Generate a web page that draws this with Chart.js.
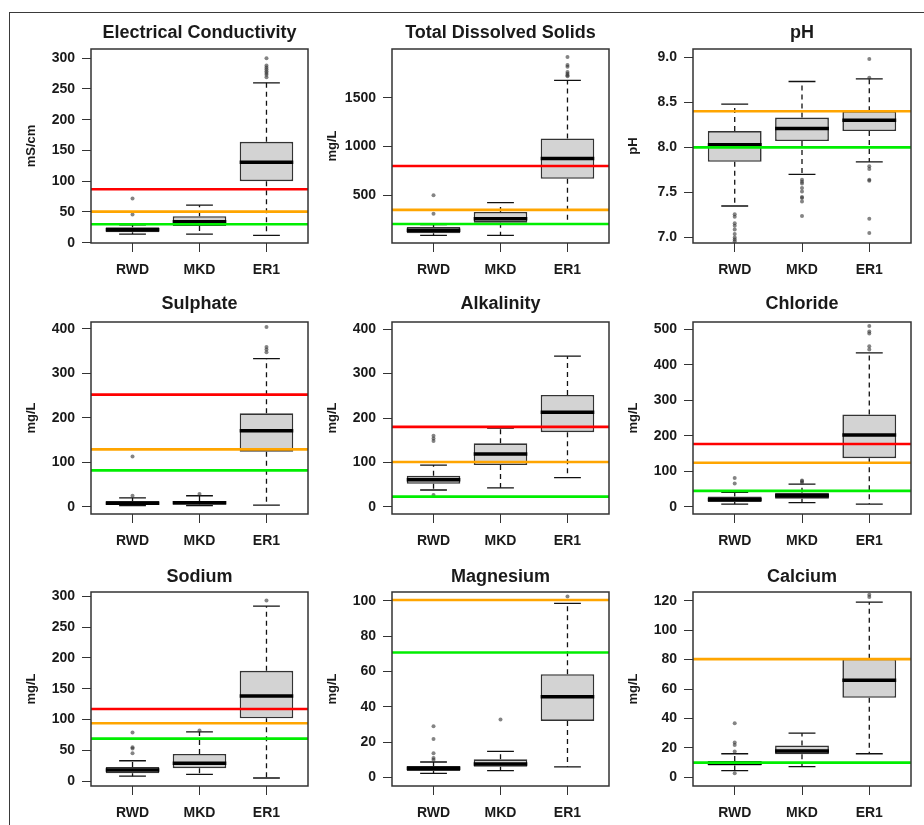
<!DOCTYPE html>
<html>
<head>
<meta charset="utf-8">
<title>Water quality by site</title>
<script src="https://cdn.jsdelivr.net/npm/chart.js@4.4.1/dist/chart.umd.min.js"></script>
<style>
  html, body { margin: 0; padding: 0; background: #fff; }
  #fig { position: relative; width: 924px; height: 825px; overflow: hidden; background: #fff; }
  #fig canvas { position: absolute; }
  .rule-top { position: absolute; left: 9px; top: 12px; width: 915px; height: 1px; background: #3a3a3a; }
  .rule-left { position: absolute; left: 9px; top: 12px; width: 1px; height: 813px; background: #3a3a3a; }
</style>
</head>
<body>
<div id="fig">
  <div class="rule-top"></div>
  <div class="rule-left"></div>
</div>
<script>
// Sampling sites on the x axis
const sites = ['RWD', 'MKD', 'ER1'];

// Per site: [lower whisker, Q1, median, Q3, upper whisker]
// Guideline limits: [red, orange, green] (null where a parameter has none)

const ecStats = [[14, 17, 21, 25, 29], [14, 27, 34, 43, 61], [12, 100, 131, 164, 260]];
const ecOutliers = [[46, 72], [], [269, 273, 276, 279, 282, 285, 288, 300]];
const ecLimits = [87, 50.5, 30];
const ecTicks = [0, 50, 100, 150, 200, 250, 300];

const tdsStats = [[89, 110, 140, 175, 200], [89, 219, 260, 329, 425], [205, 668, 877, 1082, 1678]];
const tdsOutliers = [[310, 500], [], [1720, 1730, 1745, 1765, 1818, 1836, 1918]];
const tdsLimits = [800, 350, 205];
const tdsTicks = [500, 1000, 1500];

const phStats = [[7.35, 7.84, 8.03, 8.18, 8.48], [7.70, 8.07, 8.21, 8.33, 8.73], [7.84, 8.18, 8.30, 8.40, 8.76]];
const phOutliers = [
  [6.96, 6.98, 7.0, 7.04, 7.09, 7.13, 7.16, 7.23, 7.26],
  [7.24, 7.40, 7.44, 7.45, 7.51, 7.55, 7.60, 7.62, 7.64],
  [7.05, 7.21, 7.63, 7.64, 7.76, 7.79, 8.77, 8.98]
];
const phLimits = [null, 8.4, 8.0];
const phTicks = [7.0, 7.5, 8.0, 8.5, 9.0];

const so4Stats = [[3, 5, 8, 13, 20], [3, 5, 9, 13, 25], [4, 124, 171, 210, 333]];
const so4Outliers = [[25, 113], [29], [347, 353, 359, 404]];
const so4Limits = [252, 129, 82];
const so4Ticks = [0, 100, 200, 300, 400];

const alkStats = [[38, 52, 61, 70, 94], [43, 94, 119, 143, 177], [66, 168, 213, 252, 339]];
const alkOutliers = [[27, 148, 154, 160], [], []];
const alkLimits = [180, 101, 23];
const alkTicks = [0, 100, 200, 300, 400];

const clStats = [[8, 14, 21, 29, 41], [12, 23, 31, 40, 64], [8, 137, 202, 260, 433]];
const clOutliers = [[66, 81], [68, 72, 74], [443, 452, 488, 493, 509]];
const clLimits = [177, 124, 45];
const clTicks = [0, 100, 200, 300, 400, 500];

const naStats = [[8, 12.5, 18, 23, 33], [11, 21, 29, 44, 80], [5, 102, 138, 179, 284]];
const naOutliers = [[45, 53, 55, 79], [82], [293]];
const naLimits = [117, 94, 69];
const naTicks = [0, 50, 100, 150, 200, 250, 300];

const mgStats = [[2.3, 3.6, 5.1, 6.4, 8.7], [3.8, 6, 7.6, 10.2, 14.7], [6, 32, 45.7, 58.5, 98.7]];
const mgOutliers = [[10, 11, 13.6, 21.7, 29], [32.8], [102.5]];
const mgLimits = [null, 100.6, 70.8];
const mgTicks = [0, 20, 40, 60, 80, 100];

const caStats = [[4.5, 8, 9.5, 11, 16], [7.3, 15.7, 17.8, 21.6, 30], [16, 54, 66, 80.5, 119]];
const caOutliers = [[2.7, 17.5, 22, 23.6, 36.8], [], [122.5, 124]];
const caLimits = [null, 80.3, 10];
const caTicks = [0, 20, 40, 60, 80, 100, 120];

const panels = [
  { title: 'Electrical Conductivity', unit: 'mS/cm', stats: ecStats, outliers: ecOutliers, limits: ecLimits, ticks: ecTicks, min: -0.5, max: 315, digits: 0 },
  { title: 'Total Dissolved Solids', unit: 'mg/L', stats: tdsStats, outliers: tdsOutliers, limits: tdsLimits, ticks: tdsTicks, min: 10, max: 2000, digits: 0 },
  { title: 'pH', unit: 'pH', stats: phStats, outliers: phOutliers, limits: phLimits, ticks: phTicks, min: 6.94, max: 9.09, digits: 1 },
  { title: 'Sulphate', unit: 'mg/L', stats: so4Stats, outliers: so4Outliers, limits: so4Limits, ticks: so4Ticks, min: -16, max: 415, digits: 0 },
  { title: 'Alkalinity', unit: 'mg/L', stats: alkStats, outliers: alkOutliers, limits: alkLimits, ticks: alkTicks, min: -16, max: 416, digits: 0 },
  { title: 'Chloride', unit: 'mg/L', stats: clStats, outliers: clOutliers, limits: clLimits, ticks: clTicks, min: -20, max: 520, digits: 0 },
  { title: 'Sodium', unit: 'mg/L', stats: naStats, outliers: naOutliers, limits: naLimits, ticks: naTicks, min: -8, max: 307, digits: 0 },
  { title: 'Magnesium', unit: 'mg/L', stats: mgStats, outliers: mgOutliers, limits: mgLimits, ticks: mgTicks, min: -4.9, max: 105.1, digits: 0 },
  { title: 'Calcium', unit: 'mg/L', stats: caStats, outliers: caOutliers, limits: caLimits, ticks: caTicks, min: -5.9, max: 125.9, digits: 0 }
];

// Grid geometry (page pixels)
const colLeft = [10, 311, 612];
const colWidth = [302, 302, 303];
const axisWidth = 81;
const rowTop = [14, 288, 560];
const rowPlotTop = [49, 322, 592];
const rowPlotBottom = [243, 514, 786];
const rowBottom = [286, 556, 825];
const rowTitleY = [33.5, 304.5, 577.5];

const limitColors = ['#ff0000', '#ffa500', '#00ee00'];
const textColor = '#1a1a1a';
const fontFamily = "'Liberation Sans', Arial, sans-serif";

Chart.defaults.font.family = fontFamily;
Chart.defaults.color = textColor;

const fig = document.getElementById('fig');

function buildPanel(p, idx) {
  const col = idx % 3, row = Math.floor(idx / 3);
  const w = colWidth[col];
  const h = rowBottom[row] - rowTop[row];
  const cv = document.createElement('canvas');
  cv.width = w; cv.height = h;
  cv.style.width = w + 'px'; cv.style.height = h + 'px';
  cv.style.left = colLeft[col] + 'px';
  cv.style.top = rowTop[row] + 'px';
  fig.appendChild(cv);

  const boxParts = {
    id: 'boxParts' + idx,
    beforeDatasetsDraw(chart) {
      const { ctx, scales: { x, y } } = chart;
      ctx.save();
      ctx.strokeStyle = '#111';
      ctx.lineWidth = 1.3;
      p.stats.forEach((s, i) => {
        const xc = x.getPixelForValue(i + 1);
        ctx.setLineDash([5, 4]);
        ctx.beginPath();
        ctx.moveTo(xc, y.getPixelForValue(s[3]));
        ctx.lineTo(xc, y.getPixelForValue(s[4]));
        ctx.moveTo(xc, y.getPixelForValue(s[1]));
        ctx.lineTo(xc, y.getPixelForValue(s[0]));
        ctx.stroke();
        ctx.setLineDash([]);
        const xl = x.getPixelForValue(i + 1 - 0.2), xr = x.getPixelForValue(i + 1 + 0.2);
        ctx.beginPath();
        ctx.moveTo(xl, y.getPixelForValue(s[4]));
        ctx.lineTo(xr, y.getPixelForValue(s[4]));
        ctx.moveTo(xl, y.getPixelForValue(s[0]));
        ctx.lineTo(xr, y.getPixelForValue(s[0]));
        ctx.stroke();
      });
      ctx.restore();
    },
    afterDatasetsDraw(chart) {
      const { ctx, chartArea: a, scales: { x, y } } = chart;
      ctx.save();
      // medians
      ctx.strokeStyle = '#000';
      ctx.lineWidth = 3.5;
      ctx.lineCap = 'butt';
      p.stats.forEach((s, i) => {
        const ym = y.getPixelForValue(s[2]);
        ctx.beginPath();
        ctx.moveTo(x.getPixelForValue(i + 1 - 0.4), ym);
        ctx.lineTo(x.getPixelForValue(i + 1 + 0.4), ym);
        ctx.stroke();
      });
      // guideline limits
      ctx.beginPath();
      ctx.rect(a.left, a.top, a.width, a.height);
      ctx.clip();
      p.limits.forEach((v, k) => {
        if (v === null) return;
        const yy = y.getPixelForValue(v);
        ctx.strokeStyle = limitColors[k];
        ctx.lineWidth = 2.6;
        ctx.beginPath();
        ctx.moveTo(a.left, yy);
        ctx.lineTo(a.right, yy);
        ctx.stroke();
      });
      ctx.restore();
      // plot frame
      ctx.save();
      ctx.strokeStyle = '#333';
      ctx.lineWidth = 1.5;
      ctx.strokeRect(a.left, a.top, a.width, a.height);
      // panel title, centred over the plot area
      ctx.fillStyle = textColor;
      ctx.font = 'bold 18px ' + fontFamily;
      ctx.textAlign = 'center';
      ctx.textBaseline = 'middle';
      ctx.fillText(p.title, (a.left + a.right) / 2, rowTitleY[row] - rowTop[row]);
      ctx.restore();
    }
  };

  const boxData = p.stats.map((s, i) => ({ x: i + 1, y: [s[1], s[3]] }));
  const outlierData = [];
  p.outliers.forEach((arr, i) => arr.forEach(v => outlierData.push({ x: i + 1, y: v })));

  new Chart(cv, {
    type: 'bar',
    data: {
      datasets: [
        {
          type: 'bar',
          data: boxData,
          backgroundColor: '#d3d3d3',
          borderColor: '#333',
          borderWidth: 1.6,
          borderSkipped: false,
          barPercentage: 0.8,
          categoryPercentage: 1,
          order: 2
        },
        {
          type: 'scatter',
          data: outlierData,
          pointRadius: 2,
          pointBackgroundColor: 'rgba(50,50,50,0.6)',
          pointBorderWidth: 0,
          order: 1
        }
      ]
    },
    options: {
      responsive: false,
      animation: false,
      devicePixelRatio: 1,
      events: [],
      layout: { padding: { top: rowPlotTop[row] - rowTop[row], right: 2, left: 0, bottom: 0 } },
      plugins: { legend: { display: false }, tooltip: { enabled: false }, title: { display: false } },
      scales: {
        x: {
          type: 'linear',
          min: 0.38,
          max: 3.62,
          offset: false,
          afterBuildTicks: s => { s.ticks = sites.map((_, i) => ({ value: i + 1 })); },
          afterFit: s => { s.height = rowBottom[row] - rowPlotBottom[row]; },
          ticks: {
            callback: v => sites[Math.round(v) - 1],
            font: { size: 14, weight: 'bold' },
            color: textColor,
            padding: 10,
            maxRotation: 0,
            autoSkip: false
          },
          grid: { offset: false, drawOnChartArea: false, drawTicks: true, tickLength: 9, color: '#333', lineWidth: 1 },
          border: { display: false }
        },
        y: {
          type: 'linear',
          min: p.min,
          max: p.max,
          afterBuildTicks: s => { s.ticks = p.ticks.map(v => ({ value: v })); },
          afterFit: s => { s.width = axisWidth; },
          ticks: {
            callback: v => Number(v).toFixed(p.digits),
            font: { size: 14, weight: 'bold' },
            color: textColor,
            padding: 7,
            autoSkip: false
          },
          title: {
            display: true,
            text: p.unit,
            font: { size: 13, weight: 'bold' },
            color: textColor,
            padding: { top: 14, bottom: 0 }
          },
          grid: { drawOnChartArea: false, drawTicks: true, tickLength: 9, color: '#333', lineWidth: 1 },
          border: { display: false }
        }
      }
    },
    plugins: [boxParts]
  });
}

panels.forEach(buildPanel);
</script>
</body>
</html>
